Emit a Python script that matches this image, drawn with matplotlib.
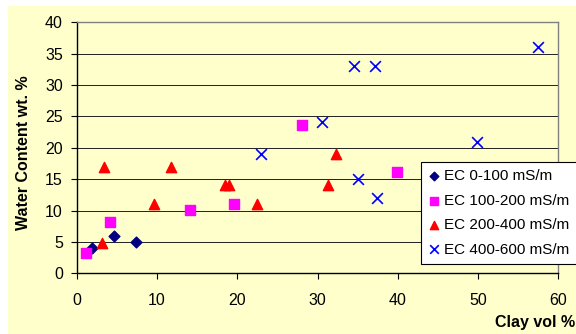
import matplotlib.pyplot as plt
from matplotlib.patches import Rectangle

# Data (Clay vol %, Water Content wt. %)
ec_0_100_x = [1.9, 4.6, 7.4]
ec_0_100_y = [4.0, 6.0, 5.0]

ec_100_200_x = [1.2, 4.2, 14.1, 19.6, 28.1, 39.9]
ec_100_200_y = [3.2, 8.1, 10.1, 11.1, 23.7, 16.1]

ec_200_400_x = [3.1, 3.4, 9.6, 11.8, 18.5, 19.0, 22.4, 31.3, 32.3]
ec_200_400_y = [4.9, 17.0, 11.0, 17.0, 14.0, 14.0, 11.0, 14.0, 19.0]

ec_400_600_x = [23.0, 30.5, 34.5, 37.1, 57.4, 49.8, 35.0, 37.4]
ec_400_600_y = [19.0, 24.1, 33.0, 33.0, 36.0, 21.0, 15.0, 12.0]

series_labels = ["EC 0-100 mS/m", "EC 100-200 mS/m", "EC 200-400 mS/m", "EC 400-600 mS/m"]

bg = "#FFFFCC"
W, H = 576, 334

plt.rcParams['font.family'] = ['Liberation Sans', 'DejaVu Sans']

fig = plt.figure(figsize=(W / 100, H / 100), dpi=100)
fig.patch.set_facecolor("white")
# yellow chart area (thin white strip on top and left)
fig.patches.append(Rectangle((8 / W, 0), 1 - 8 / W, 1 - 6 / H, transform=fig.transFigure,
                             facecolor=bg, edgecolor="none", zorder=-10))

ax = fig.add_axes([76.7 / W, 1 - 273.3 / H, (558.4 - 76.7) / W, (273.3 - 22.3) / H])
ax.set_facecolor(bg)

ax.scatter(ec_0_100_x, ec_0_100_y, marker="D", s=30, color="#000080", label=series_labels[0], zorder=3)
ax.scatter(ec_100_200_x, ec_100_200_y, marker="s", s=50, color="#FF00FF", label=series_labels[1], zorder=3)
ax.scatter(ec_200_400_x, ec_200_400_y, marker="^", s=55, color="#FF0000", label=series_labels[2], zorder=3)
ax.scatter(ec_400_600_x, ec_400_600_y, marker="x", s=60, color="#0000FF", linewidths=1.2,
           label=series_labels[3], zorder=3)

ax.set_xlim(0, 60)
ax.set_ylim(0, 40)
ax.set_xticks(range(0, 61, 10))
ax.set_yticks(range(0, 41, 5))
ax.yaxis.grid(True, color="#202020", linewidth=0.7)
ax.set_axisbelow(True)

ax.tick_params(axis="both", labelsize=11.5, length=4, width=0.8, color="black")
ax.tick_params(axis="x", pad=10)
ax.tick_params(axis="y", pad=6)

ax.spines["left"].set_color("black")
ax.spines["bottom"].set_color("black")
ax.spines["top"].set_color("#808080")
ax.spines["right"].set_color("#808080")
for s in ax.spines.values():
    s.set_linewidth(1.0)

fig.text(23.5 / W, 1 - 153 / H, "Water Content wt. %", fontsize=11.5, fontweight="bold",
         rotation=90, ha="center", va="center")
fig.text(575 / W, 1 - 322 / H, "Clay vol %", fontsize=11.5, fontweight="bold", ha="right", va="center")

leg = ax.legend(loc="upper left", bbox_to_anchor=(420.7 / W, 1 - 161.7 / H), bbox_transform=fig.transFigure,
                borderaxespad=0, fontsize=11, frameon=True, fancybox=False, framealpha=1,
                edgecolor="black", handlelength=0.7, handletextpad=0.3, borderpad=0.5,
                labelspacing=0.68, scatterpoints=1, markerscale=0.8)
leg.get_frame().set_linewidth(0.8)
leg.set_zorder(5)

fig.savefig("out.png", dpi=100, facecolor=fig.get_facecolor())
